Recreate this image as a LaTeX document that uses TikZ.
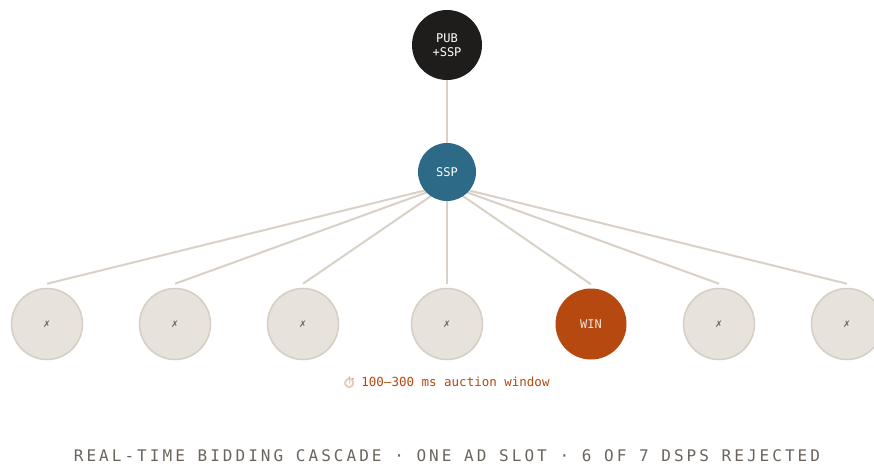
\documentclass[tikz,border=0pt]{standalone}
\usepackage{fontspec}
\usetikzlibrary{calc,backgrounds}
\setmonofont{DejaVu Sans Mono}
\newfontfamily\symfont{DejaVu Sans}
\newfontfamily\emojifont{Noto Emoji}
\definecolor{inkdark}{HTML}{1E1D1B}
\definecolor{sspteal}{HTML}{2D6A87}
\definecolor{winorange}{HTML}{B5490F}
\definecolor{dspfill}{HTML}{E8E2DC}
\definecolor{dspedge}{HTML}{D6CDC3}
\definecolor{wire}{HTML}{D9D1C8}
\definecolor{mutedtext}{HTML}{6B645D}
\definecolor{winlabel}{HTML}{F2E3D6}
\tikzset{
  hub/.style={circle, inner sep=0pt, text=white, font=\ttfamily\fontsize{12}{14}\selectfont, align=center},
  dsp/.style={circle, minimum size=71pt, inner sep=0pt, fill=dspfill, draw=dspedge, line width=1.5pt,
              text=mutedtext, font=\symfont\fontsize{9}{10}\selectfont},
  winner/.style={circle, minimum size=71pt, inner sep=0pt, fill=winorange,
              text=winlabel, font=\ttfamily\fontsize{12}{14}\selectfont},
  wirestyle/.style={draw=wire, line width=2pt}
}
\begin{document}
\begin{tikzpicture}[x=1pt, y=-1pt]
  \useasboundingbox (0,0) rectangle (874,466);
  \clip (0,0) rectangle (874,466);

  % auction hubs
  \node[hub, fill=inkdark, minimum size=70pt] (pub) at (447,45) {PUB\\+SSP};
  \node[hub, fill=sspteal, minimum size=58pt] (ssp) at (447,172) {SSP};

  % demand-side platforms
  \node[dsp] (d1) at (47,324) {✗};
  \node[dsp] (d2) at (175,324) {✗};
  \node[dsp] (d3) at (303,324) {✗};
  \node[dsp] (d4) at (447,324) {✗};
  \node[winner] (d5) at (591,324) {WIN};
  \node[dsp] (d6) at (719,324) {✗};
  \node[dsp] (d7) at (847,324) {✗};

  % fan-out origin inside the SSP hub; wire ends stop just above each platform
  \coordinate (fan) at ($(ssp.center)+(0,13)$);
  \foreach \i in {1,...,7} {
    \coordinate (t\i) at ($(d\i.north)+(0,-4)$);
  }

  % bid request wires, beneath the hubs
  \begin{scope}[on background layer]
    \fill[white] (0,0) rectangle (874,466);
    \draw[wirestyle] (pub.south) -- (ssp.north);
    \foreach \i in {1,...,7} {
      \draw[wirestyle] (fan) -- (t\i);
    }
  \end{scope}

  % timing note
  \node[font=\ttfamily\fontsize{12.5}{14}\selectfont, text=winorange] (note) at (446,383)
    {{\emojifont\color{winorange!60}\fontsize{11}{12}\selectfont ⏱}\hspace{0.4em}100–300 ms auction window};

  % caption
  \node[font=\ttfamily\fontsize{16}{18}\selectfont\addfontfeatures{LetterSpace=19}, text=mutedtext] (title) at (447,456)
    {REAL-TIME BIDDING CASCADE · ONE AD SLOT · 6 OF 7 DSPS REJECTED};
\end{tikzpicture}
\end{document}
